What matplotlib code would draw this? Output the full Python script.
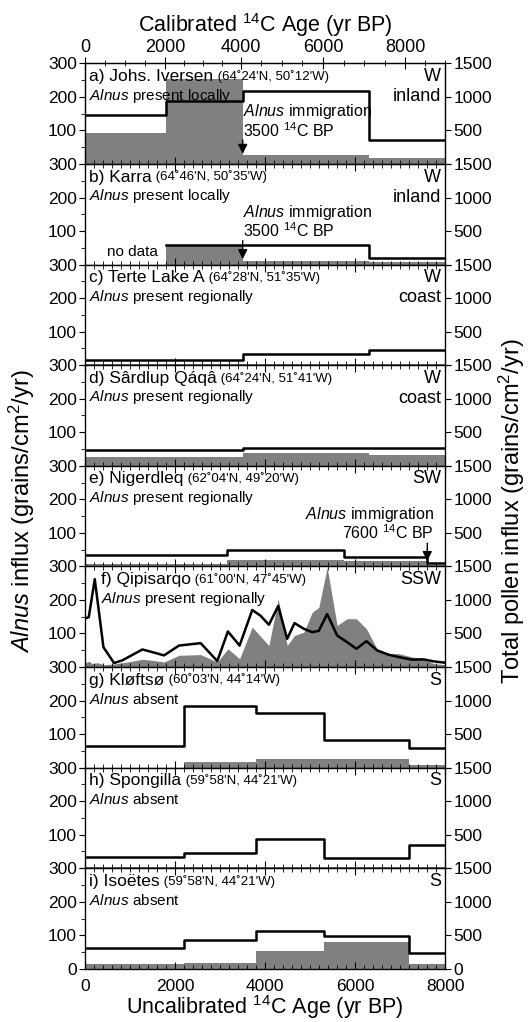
import numpy as np
import matplotlib
matplotlib.use("Agg")
from matplotlib import pyplot as plt
from matplotlib.ticker import MultipleLocator

plt.rcParams['font.family'] = ['Liberation Sans', 'DejaVu Sans']
plt.rcParams['mathtext.fontset'] = 'custom'
plt.rcParams['mathtext.rm'] = 'Liberation Sans'
plt.rcParams['mathtext.it'] = 'Liberation Sans:italic'

# ---- data (uncalibrated 14C yr BP) ----
# step panels: break ages, alnus influx (left axis), total pollen influx (right axis)
a_age = [0, 1800, 3500, 6300, 8000]
a_alnus = [93, 253, 26, 19]
a_total = [723, 946, 1084, 356]

b_age = [0, 1800, 3500, 6300, 8000]
b_alnus = [np.nan, 57, 10, 7]
b_total = [np.nan, 285, 285, 95]

c_age = [0, 3500, 6300, 8000]
c_alnus = [5, 5, 5]
c_total = [74, 173, 233]

d_age = [0, 3500, 6300, 8000]
d_alnus = [25, 37, 32]
d_total = [233, 267, 267]

e_age = [0, 3150, 5750, 7600, 8000]
e_alnus = [6, 20, 15, 3]
e_total = [173, 248, 139, 54]

# f) Qipisarqo, continuous record
f_total_age = [15, 81, 214, 407, 643, 828, 1272, 1494, 1752, 2085, 2566, 2935, 3172, 3431,
               3712, 3897, 4082, 4289, 4488, 4651, 4858, 5043, 5191, 5376, 5598, 5820, 6026,
               6248, 6485, 6743, 6965, 7261, 7520, 7742, 8000]
f_total = [728, 743, 1310, 295, 60, 100, 262, 222, 173, 320, 356, 89, 530, 320,
           850, 765, 630, 910, 420, 655, 570, 520, 540, 790, 470, 370, 272,
           385, 248, 183, 149, 109, 114, 84, 64]
f_alnus_age = [0, 89, 163, 274, 421, 643, 939, 1272, 1494, 1752, 2085, 2566, 2935, 3172, 3431,
               3712, 4082, 4289, 4488, 4651, 4858, 5043, 5191, 5376, 5598, 5820, 6026,
               6248, 6485, 6743, 6965, 7261, 7520, 7742, 8000]
f_alnus = [13, 17, 10, 13, 7, 9, 15, 23, 20, 15, 35, 37, 15, 54, 25,
           119, 64, 203, 64, 94, 104, 163, 178, 297, 124, 144, 144,
           114, 54, 40, 40, 30, 25, 10, 7]

g_age = [0, 2200, 3800, 5300, 7200, 8000]
g_alnus = [0, 16, 25, 27, 8]
g_total = [317, 926, 812, 411, 292]

h_age = [0, 2200, 3800, 5300, 7200, 8000]
h_alnus = [3, 5, 3, 5, 5]
h_total = [173, 233, 440, 149, 351]

i_age = [0, 2200, 3800, 5300, 7200, 8000]
i_alnus = [14, 16, 52, 81, 15]
i_total = [317, 426, 569, 490, 233]

sites = ["a) Johs. Iversen", "b) Karra", "c) Terte Lake A", "d) S\u00e2rdlup Q\u00e1q\u00e2",
         "e) Nigerdleq", "f) Qipisarqo", "g) Kl\u00f8fts\u00f8", "h) Spongilla", "i) Iso\u00ebtes"]
coords = ["(64\u02da24'N, 50\u02da12'W)", "(64\u02da46'N, 50\u02da35'W)", "(64\u02da28'N, 51\u02da35'W)",
          "(64\u02da24'N, 51\u02da41'W)", "(62\u02da04'N, 49\u02da20'W)", "(61\u02da00'N, 47\u02da45'W)",
          "(60\u02da03'N, 44\u02da14'W)", "(59\u02da58'N, 44\u02da21'W)", "(59\u02da58'N, 44\u02da21'W)"]
status = ["present locally", "present locally", "present regionally", "present regionally",
          "present regionally", "present regionally", "absent", "absent", "absent"]
direction = ["W", "W", "W", "W", "SW", "SSW", "S", "S", "S"]
setting = ["inland", "inland", "coast", "coast", "", "", "", "", ""]

# calibrated axis: cal yr BP labels and their uncalibrated positions
cal_labels = [0, 2000, 4000, 6000, 8000]
cal_pos = [0, 1800, 3500, 5350, 7200]

step_data = {0: (a_age, a_alnus, a_total), 1: (b_age, b_alnus, b_total),
             2: (c_age, c_alnus, c_total), 3: (d_age, d_alnus, d_total),
             4: (e_age, e_alnus, e_total), 6: (g_age, g_alnus, g_total),
             7: (h_age, h_alnus, h_total), 8: (i_age, i_alnus, i_total)}

fig, axes = plt.subplots(9, 1, figsize=(5.32, 10.22), dpi=100, sharex=True,
                         gridspec_kw=dict(hspace=0))
fig.subplots_adjust(left=0.16, right=0.837, top=0.938, bottom=0.052)

grey = '#808080'
tfs = 12.5

for k, ax in enumerate(axes):
    ax2 = ax.twinx()
    if k in step_data:
        age, aln, tot = step_data[k]
        aln_s = list(aln) + [aln[-1]]
        tot_s = list(tot) + [tot[-1]]
        ax.fill_between(age, 0, aln_s, step='post', color=grey, lw=0)
        ax2.plot(age, tot_s, drawstyle='steps-post', color='k', lw=1.8)
    else:
        ax.fill_between(f_alnus_age, 0, f_alnus, color=grey, lw=0)
        ax2.plot(f_total_age, f_total, color='k', lw=1.8)

    ax.set_xlim(0, 8000)
    ax.set_ylim(0, 300)
    ax2.set_ylim(0, 1500)
    ax.set_yticks([0, 100, 200, 300])
    ax.yaxis.set_minor_locator(MultipleLocator(50))
    ax2.set_yticks([0, 500, 1000, 1500])
    if k < 8:
        ax.set_yticklabels(['', '100', '200', '300'])
        ax2.set_yticklabels(['', '500', '1000', '1500'])
    ax.tick_params(axis='y', which='major', direction='out', length=4, labelsize=tfs, pad=2)
    ax.tick_params(axis='y', which='minor', direction='out', length=3)
    ax2.tick_params(axis='y', direction='out', length=4, labelsize=tfs, pad=2)
    ax.xaxis.set_major_locator(MultipleLocator(2000))
    ax.xaxis.set_minor_locator(MultipleLocator(200))
    ax.tick_params(axis='x', which='both', direction='in', top=True, bottom=True)
    ax.tick_params(axis='x', which='major', length=5, labelsize=tfs, pad=7)
    ax.tick_params(axis='x', which='minor', length=3)
    for sp in ax.spines.values():
        sp.set_linewidth(0.9)

    xo = 0.045 if k == 5 else 0.012
    t = ax.text(xo, 0.87, sites[k], transform=ax.transAxes, fontsize=12.5, va='center', ha='left')
    ax.annotate(" " + coords[k], xy=(1, 0.08), xycoords=t, fontsize=9.5, va='bottom', ha='left')
    ax.text(xo, 0.68, r"$\it{Alnus}$ " + status[k], transform=ax.transAxes, fontsize=11,
            va='center', ha='left')
    ax.text(0.988, 0.87, direction[k], transform=ax.transAxes, fontsize=13, va='center', ha='right')
    if setting[k]:
        ax.text(0.988, 0.67, setting[k], transform=ax.transAxes, fontsize=13, va='center',
                ha='right')

# immigration annotations
for k in (0, 1):
    ax = axes[k]
    ax.text(3500, 155, r"$\it{Alnus}$ immigration", fontsize=11.5, va='center', ha='left')
    ax.text(3500, 100, r"3500 $^{14}$C BP", fontsize=11.5, va='center', ha='left')
    ax.annotate("", xy=(3500, 8 if k else 22), xytext=(3500, 80),
                arrowprops=dict(arrowstyle='-|>', color='k', lw=1.0, mutation_scale=14))
axes[1].text(1050, 38, "no data", fontsize=11, va='center', ha='center')
axes[4].text(7740, 155, r"$\it{Alnus}$ immigration", fontsize=11.5, va='center', ha='right')
axes[4].text(7740, 100, r"7600 $^{14}$C BP", fontsize=11.5, va='center', ha='right')
axes[4].annotate("", xy=(7600, 8), xytext=(7600, 78),
                 arrowprops=dict(arrowstyle='-|>', color='k', lw=1.0, mutation_scale=14))

# calibrated top axis
top = axes[0].twiny()
top.set_xlim(0, 8000)
top.set_xticks(cal_pos)
top.set_xticklabels([str(v) for v in cal_labels])
top.set_xticks(np.interp(np.arange(0, 9001, 500), [0, 2000, 4000, 6000, 8000, 10000],
                         cal_pos + [9000]), minor=True)
top.tick_params(axis='x', which='major', direction='inout', length=8, labelsize=13, pad=1)
top.tick_params(axis='x', which='minor', direction='inout', length=5)
top.set_xlabel(r"Calibrated $^{14}$C Age (yr BP)", fontsize=15.5, labelpad=5)

axes[-1].set_xlabel(r"Uncalibrated $^{14}$C Age (yr BP)", fontsize=15.5, labelpad=0)

fig.text(0.042, 0.5, r"$\it{Alnus}$ influx (grains/cm$^2$/yr)", rotation=90, fontsize=17,
         va='center', ha='center')
fig.text(0.962, 0.5, r"Total pollen influx (grains/cm$^2$/yr)", rotation=90, fontsize=17,
         va='center', ha='center')

fig.savefig("out.png", dpi=100)
